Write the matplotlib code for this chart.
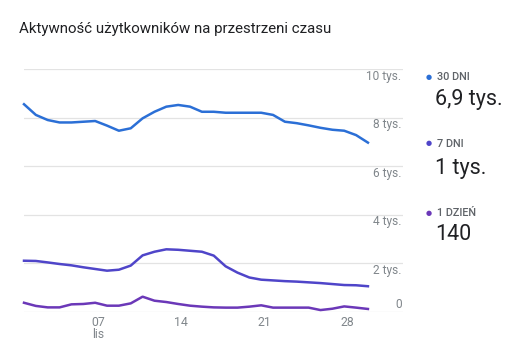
import numpy as np
import pandas as pd
import matplotlib
matplotlib.use('Agg')
import matplotlib.pyplot as plt

plt.rcParams['font.family'] = ['Roboto', 'DejaVu Sans']

# dane: 1-30 listopada
dates = pd.date_range('2023-11-01', '2023-11-30', freq='D')
users_30d = [8550, 8110, 7900, 7800, 7800, 7830, 7860, 7670, 7460, 7560,
             7970, 8240, 8450, 8520, 8450, 8240, 8240, 8200, 8200, 8200,
             8200, 8110, 7830, 7770, 7680, 7580, 7500, 7460, 7280, 6970]
users_7d = [2110, 2100, 2040, 1975, 1920, 1840, 1770, 1700, 1740, 1910,
            2330, 2480, 2580, 2560, 2520, 2480, 2320, 1880, 1620, 1420,
            1330, 1300, 1270, 1250, 1220, 1190, 1150, 1110, 1100, 1060]
users_1d = [380, 250, 190, 190, 315, 330, 380, 260, 260, 355,
            630, 465, 410, 330, 260, 220, 190, 180, 180, 220,
            275, 180, 180, 180, 180, 80, 135, 230, 180, 125]

series_names = ['30 DNI', '7 DNI', '1 DZIEŃ']
series_totals = ['6,9 tys.', '1 tys.', '140']
series_colors = ['#2b6fd6', '#4f45c9', '#6b38b8']

y_ticks = [0, 2000, 4000, 6000, 8000, 10000]
y_labels = ['0', '2 tys.', '4 tys.', '6 tys.', '8 tys.', '10 tys.']
x_tick_days = [7, 14, 21, 28]

W, H = 516, 356
fig = plt.figure(figsize=(W / 100, H / 100), dpi=100)

# osie: od x=24 do 403 px, od y=69 do 312 px
ax = fig.add_axes([24 / W, (H - 312) / H, (403 - 24) / W, (312 - 69) / H])
x = np.arange(len(dates))
step = 11.86
ax.set_xlim(0, (403 - 24) / step)
ax.set_ylim(0, 10000)

for v in y_ticks:
    ax.axhline(v, color='#e3e3e3', lw=0.9, zorder=0)

for vals, col in zip([users_30d, users_7d, users_1d], series_colors):
    ax.plot(x, vals, color=col, lw=1.8, solid_joinstyle='round', clip_on=False, zorder=3)

for spine in ax.spines.values():
    spine.set_visible(False)
ax.set_xticks([])
ax.set_yticks([])

# etykiety osi Y po prawej stronie
for v, lab in zip(y_ticks, y_labels):
    off = 8 if v == 0 else -7
    ax.annotate(lab, xy=(1, v), xycoords=('axes fraction', 'data'),
                xytext=(-1, off * 0.72), textcoords='offset points',
                ha='right', va='center', fontsize=8.6, color='#80868b')

# etykiety osi X
for d in x_tick_days:
    i = int(np.where(dates.day == d)[0][0])
    ax.annotate(f'{d:02d}', xy=(i, 0), xycoords='data',
                xytext=(2, -11 * 0.72), textcoords='offset points',
                ha='center', va='center', fontsize=8.8, color='#80868b')
    if d == 7:
        ax.annotate('lis', xy=(i, 0), xycoords='data',
                    xytext=(2, -23 * 0.72), textcoords='offset points',
                    ha='center', va='center', fontsize=8.8, color='#80868b')

fig.text(19 / W, 1 - 29 / H, 'Aktywność użytkowników na przestrzeni czasu',
         ha='left', va='center', fontsize=10.8, color='#202124')

# legenda po prawej
leg_y = [77, 144, 213]
val_y = [100, 168, 235]
for name, total, col, ly, vy in zip(series_names, series_totals, series_colors, leg_y, val_y):
    fig.text(429 / W, 1 - ly / H, '●', ha='center', va='center', fontsize=5, color=col)
    fig.text(437 / W, 1 - ly / H, name, ha='left', va='center', fontsize=7.8,
             color='#5f6368', fontweight='medium')
    fig.text(435 / W, 1 - vy / H, total, ha='left', va='center', fontsize=15.5,
             color='#202124')

fig.savefig('out.png', dpi=100)
